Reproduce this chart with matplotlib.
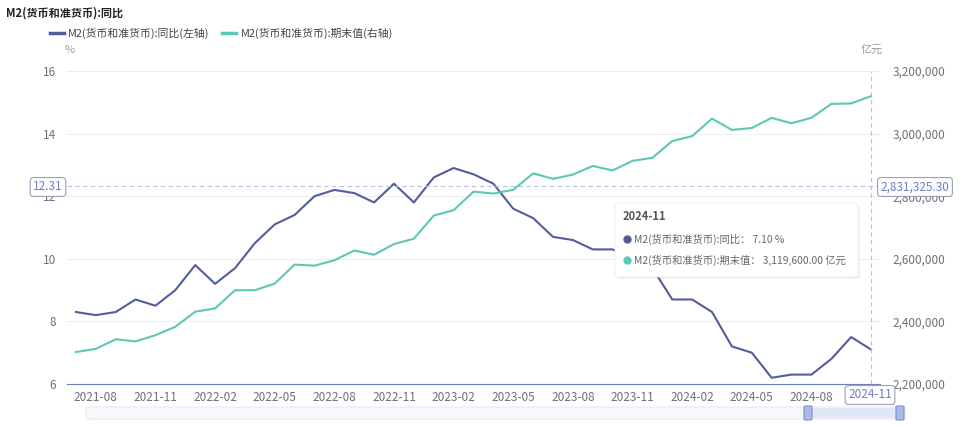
import matplotlib
matplotlib.use('Agg')
import matplotlib.pyplot as plt
from matplotlib.patches import FancyBboxPatch, Rectangle
from matplotlib.lines import Line2D
from matplotlib.ticker import FuncFormatter

plt.rcParams['font.family'] = ['Noto Sans CJK SC', 'DejaVu Sans']

months = ['2021-07', '2021-08', '2021-09', '2021-10', '2021-11', '2021-12',
          '2022-01', '2022-02', '2022-03', '2022-04', '2022-05', '2022-06',
          '2022-07', '2022-08', '2022-09', '2022-10', '2022-11', '2022-12',
          '2023-01', '2023-02', '2023-03', '2023-04', '2023-05', '2023-06',
          '2023-07', '2023-08', '2023-09', '2023-10', '2023-11', '2023-12',
          '2024-01', '2024-02', '2024-03', '2024-04', '2024-05', '2024-06',
          '2024-07', '2024-08', '2024-09', '2024-10', '2024-11']
yoy = [8.3, 8.2, 8.3, 8.7, 8.5, 9.0,
       9.8, 9.2, 9.7, 10.5, 11.1, 11.4,
       12.0, 12.2, 12.1, 11.8, 12.4, 11.8,
       12.6, 12.9, 12.7, 12.4, 11.6, 11.3,
       10.7, 10.6, 10.3, 10.3, 10.0, 9.7,
       8.7, 8.7, 8.3, 7.2, 7.0, 6.2,
       6.3, 6.3, 6.8, 7.5, 7.1]
balance = [2302200, 2312300, 2342800, 2336200, 2356000, 2382900,
           2431000, 2441500, 2499400, 2499700, 2520800, 2581500,
           2578100, 2595100, 2626600, 2612900, 2647100, 2664300,
           2738100, 2755300, 2814600, 2808500, 2820500, 2873000,
           2855400, 2869000, 2896700, 2882300, 2912900, 2922700,
           2976200, 2991900, 3048000, 3011900, 3017800, 3050200,
           3033100, 3050400, 3094800, 3096500, 3119600]
# last label (2024-11) is shown by the axis pointer box instead
tick_labels = months[1:-1:3]

title = 'M2(货币和准货币):同比'
name_yoy = 'M2(货币和准货币):同比(左轴)'
name_bal = 'M2(货币和准货币):期末值(右轴)'

purple = '#535d9d'
teal = '#5dc7b5'
gray = '#6e7079'
W, H = 960, 425

def fx(px):
  return px / W

def fy(py):
  return 1 - py / H

fig = plt.figure(figsize=(9.6, 4.25), dpi=100)
ax = fig.add_axes([fx(67), fy(384), fx(880) - fx(67), fy(71) - fy(384)])
ax2 = ax.twinx()
x = list(range(len(months)))

ax.grid(axis='y', color='#eeeeee', lw=0.8)
ax.set_axisbelow(True)
ax.plot(x, yoy, color=purple, lw=1.5, zorder=3)
ax2.plot(x, balance, color=teal, lw=1.5, zorder=3)

ax.set_xlim(-0.45, len(months) - 1 + 0.45)
ax.set_ylim(6, 16)
ax2.set_ylim(2200000, 3200000)
ax.set_yticks(range(6, 17, 2))
ax2.set_yticks(range(2200000, 3200001, 200000))
ax2.yaxis.set_major_formatter(FuncFormatter(lambda v, p: f'{v:,.0f}'))
ax.set_xticks(x[1:-1:3])
ax.set_xticklabels(tick_labels)

for a in (ax, ax2):
  for s in a.spines.values():
    s.set_visible(False)
  a.tick_params(length=0, labelsize=8.5, colors=gray)
ax.spines['bottom'].set_visible(True)
ax.spines['bottom'].set_color('#6e7fb8')
ax.tick_params(axis='y', pad=8)
ax.tick_params(axis='x', pad=5)
ax2.tick_params(axis='y', pad=9)

# crosshair
ax.axhline(12.31, color='#b8c0e6', lw=0.8, ls=(0, (4, 3)), zorder=4)
ax.axvline(40, color='#b8c0e6', lw=0.8, ls=(0, (4, 3)), zorder=4)
box = dict(boxstyle='round,pad=0.25', fc='white', ec='#9aa0b5', lw=0.8)
fig.text(fx(48), fy(187), '12.31', color='#6e7fc6', fontsize=8.5,
         ha='center', va='center', bbox=box)
fig.text(fx(915), fy(187), '2,831,325.30', color='#6e7fc6', fontsize=8.5,
         ha='center', va='center', bbox=box)
fig.text(fx(870), fy(395), '2024-11', color='#6e7fc6', fontsize=8.5,
         ha='center', va='center', bbox=box)

# title and legend
fig.text(fx(6), fy(13), title, fontsize=8, fontweight='bold', color='#222222',
         ha='left', va='center')
fig.add_artist(Line2D([fx(50), fx(64)], [fy(33), fy(33)], color=purple, lw=2.5))
fig.text(fx(68), fy(33), name_yoy, fontsize=7.8, color='#444444', ha='left', va='center')
fig.add_artist(Line2D([fx(222), fx(236)], [fy(33), fy(33)], color=teal, lw=2.5))
fig.text(fx(241), fy(33), name_bal, fontsize=7.8, color='#444444', ha='left', va='center')
fig.text(fx(70), fy(50), '%', fontsize=8, color='#999999', ha='center', va='center')
fig.text(fx(872), fy(50), '亿元', fontsize=8, color='#999999', ha='center', va='center')

# tooltip
fig.add_artist(FancyBboxPatch((fx(617), fy(279)), fx(243), fy(205) - fy(279),
                              boxstyle='round,pad=0,rounding_size=0.006',
                              fc='#000000', ec='none', alpha=0.06, zorder=5))
fig.add_artist(FancyBboxPatch((fx(615), fy(277)), fx(243), fy(203) - fy(277),
                              boxstyle='round,pad=0,rounding_size=0.006',
                              fc='white', ec='#eeeeee', lw=0.6, zorder=6))
fig.text(fx(623), fy(217), '2024-11', fontsize=8, fontweight='bold', color='#555555',
         ha='left', va='center', zorder=7)
fig.add_artist(Line2D([fx(627)], [fy(239)], marker='o', ms=5, color=purple, zorder=7))
fig.text(fx(634), fy(239), 'M2(货币和准货币):同比： 7.10 %', fontsize=7.4,
         color='#666666', ha='left', va='center', zorder=7)
fig.add_artist(Line2D([fx(627)], [fy(260)], marker='o', ms=5, color=teal, zorder=7))
fig.text(fx(634), fy(260), 'M2(货币和准货币):期末值： 3,119,600.00 亿元', fontsize=7.4,
         color='#666666', ha='left', va='center', zorder=7)

# data zoom slider
fig.add_artist(FancyBboxPatch((fx(86), fy(419)), fx(905) - fx(86), fy(407) - fy(419),
                              boxstyle='round,pad=0,rounding_size=0.004',
                              fc='#f7f8fb', ec='#e8eaf0', lw=0.8))
fig.add_artist(Rectangle((fx(808), fy(418)), fx(900) - fx(808), fy(408) - fy(418),
                         fc='#dbe4f7', ec='none', alpha=0.8))
for hx in (808, 900):
  fig.add_artist(FancyBboxPatch((fx(hx - 4), fy(420)), fx(8), fy(406) - fy(420),
                                boxstyle='round,pad=0,rounding_size=0.002',
                                fc='#a9bbe6', ec='#7d91c9', lw=0.8, zorder=3))

fig.savefig('out.png', dpi=100)
